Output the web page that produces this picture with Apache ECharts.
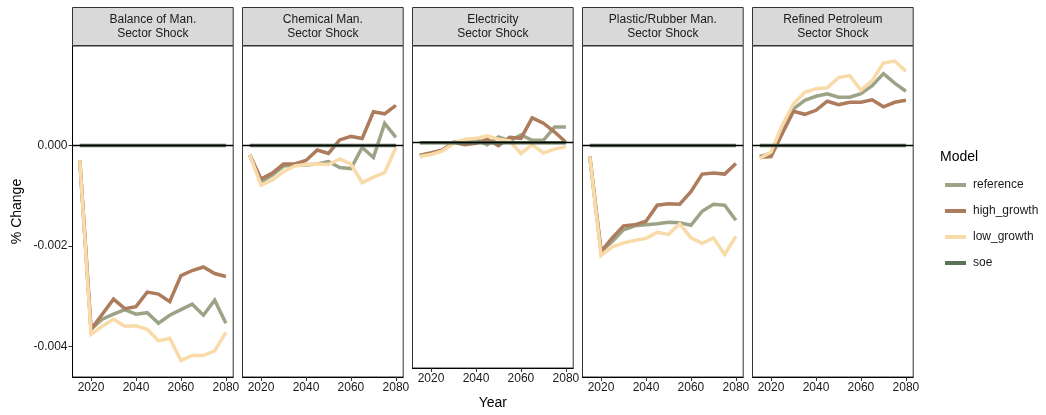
<!DOCTYPE html>
<html><head><meta charset="utf-8">
<script src="https://cdn.jsdelivr.net/npm/echarts@6/dist/echarts.min.js"></script>
<style>html,body{margin:0;padding:0;background:#fff}#c{width:1046px;height:415px}</style>
</head><body><div id="c"></div>
<script>
var years = [2015,2020,2025,2030,2035,2040,2045,2050,2055,2060,2065,2070,2075,2080];
var panels = ["Balance of Man.\nSector Shock","Chemical Man.\nSector Shock","Electricity\nSector Shock","Plastic/Rubber Man.\nSector Shock","Refined Petroleum\nSector Shock"];
var models = ["reference","high_growth","low_growth","soe"];
var colors = ["#9DA387","#AD7C5D","#F9DBA9","#5B7257"];
var xTicks = [2020,2040,2060,2080];
var yTicks = [-0.004,-0.002,0];

// Balance of Man.
var bal_reference = [-0.00030,-0.00366,-0.00346,-0.00336,-0.00327,-0.00336,-0.00333,-0.00354,-0.00338,-0.00327,-0.00316,-0.00338,-0.00308,-0.00354];
var bal_high      = [-0.00030,-0.00366,-0.00336,-0.00306,-0.00325,-0.00321,-0.00292,-0.00296,-0.00311,-0.00259,-0.00249,-0.00242,-0.00255,-0.00261];
var bal_low       = [-0.00030,-0.00376,-0.00360,-0.00346,-0.00360,-0.00359,-0.00366,-0.00389,-0.00384,-0.00428,-0.00418,-0.00418,-0.00409,-0.00372];
// Chemical Man.
var chem_reference = [-0.00019,-0.00072,-0.00059,-0.00041,-0.00039,-0.00039,-0.00037,-0.00032,-0.00044,-0.00046,-0.00004,-0.00024,0.00044,0.00016];
var chem_high      = [-0.00019,-0.00067,-0.00055,-0.00037,-0.00037,-0.00030,-0.00009,-0.00016,0.00011,0.00018,0.00014,0.00067,0.00063,0.00080];
var chem_low       = [-0.00019,-0.00079,-0.00069,-0.00052,-0.00041,-0.00038,-0.00037,-0.00038,-0.00027,-0.00037,-0.00074,-0.00063,-0.00054,-0.00004];
// Electricity
var elec_reference = [-0.00026,-0.00021,-0.00015,0.00001,0.00004,0.00007,-0.00004,0.00012,0.00004,0.00016,0.00005,0.00005,0.00032,0.00032];
var elec_high      = [-0.00026,-0.00021,-0.00015,0.00001,-0.00004,-0.00001,0.00007,-0.00006,0.00011,0.00009,0.00051,0.00040,0.00022,0.00001];
var elec_low       = [-0.00028,-0.00024,-0.00017,-0.00001,0.00007,0.00009,0.00014,0.00007,0.00004,-0.00022,-0.00004,-0.00021,-0.00013,-0.00008];
// Plastic/Rubber Man.
var plas_reference = [-0.00022,-0.00211,-0.00191,-0.00168,-0.00160,-0.00158,-0.00156,-0.00153,-0.00154,-0.00159,-0.00131,-0.00117,-0.00119,-0.00149];
var plas_high      = [-0.00022,-0.00211,-0.00184,-0.00160,-0.00158,-0.00151,-0.00119,-0.00116,-0.00117,-0.00092,-0.00057,-0.00055,-0.00057,-0.00036];
var plas_low       = [-0.00022,-0.00219,-0.00202,-0.00194,-0.00189,-0.00185,-0.00173,-0.00177,-0.00156,-0.00184,-0.00195,-0.00184,-0.00217,-0.00181];
// Refined Petroleum
var pet_reference = [-0.00022,-0.00016,0.00029,0.00073,0.00090,0.00098,0.00103,0.00096,0.00096,0.00103,0.00119,0.00143,0.00124,0.00108];
var pet_high      = [-0.00024,-0.00022,0.00024,0.00068,0.00062,0.00070,0.00088,0.00081,0.00086,0.00086,0.00091,0.00077,0.00086,0.00090];
var pet_low       = [-0.00026,-0.00013,0.00040,0.00083,0.00106,0.00113,0.00115,0.00135,0.00139,0.00110,0.00129,0.00164,0.00168,0.00148];
var soe = [0,0,0,0,0,0,0,0,0,0,0,0,0,0];

var panelData = [
  [bal_reference, bal_high, bal_low, soe],
  [chem_reference, chem_high, chem_low, soe],
  [elec_reference, elec_high, elec_low, soe],
  [plas_reference, plas_high, plas_low, soe],
  [pet_reference, pet_high, pet_low, soe]
];

var chart = echarts.init(document.getElementById('c'), null, {renderer:'canvas'});
var FONT = 'Liberation Sans, Arial, sans-serif';
var grids=[], xAxes=[], yAxes=[], series=[], graphics=[];
var L0 = 72.5, W = 160.7, STEP = 170, TOP = 46, H = 331;
for (var i=0;i<5;i++){
  var left = L0 + i*STEP;
  grids.push({left:left, top:TOP, width:W, height:H, show:true, borderColor:'#333', borderWidth:1, backgroundColor:'#fff'});
  xAxes.push({type:'value', gridIndex:i, min:2011.75, max:2083.25,
    splitLine:{show:false},
    axisLine:{show:true, onZero:false, lineStyle:{color:'#000', width:1}},
    axisTick:{show:true, length:4, lineStyle:{color:'#333'}, customValues:xTicks},
    axisLabel:{color:'#1a1a1a', fontSize:12, fontFamily:FONT, margin:5, customValues:xTicks, formatter:function(v){return String(v);}},
    name: i===2 ? 'Year' : '', nameLocation:'middle', nameGap:28,
    nameTextStyle:{color:'#000', fontSize:14, fontFamily:FONT}
  });
  yAxes.push({type:'value', gridIndex:i, min:-0.00461, max:0.00198,
    splitLine:{show:false},
    axisLine:{show:i===0, onZero:false, lineStyle:{color:'#000', width:1}},
    axisTick:{show:i===0, length:4, lineStyle:{color:'#333'}, customValues:yTicks},
    axisLabel:{show:i===0, color:'#1a1a1a', fontSize:12, fontFamily:FONT, margin:5, customValues:yTicks, formatter:function(v){return v.toFixed(3);}},
    name: i===0 ? '% Change' : '', nameLocation:'middle', nameGap:48, nameRotate:90,
    nameTextStyle:{color:'#000', fontSize:14, fontFamily:FONT}
  });
  for (var m=0;m<4;m++){
    var d = panelData[i][m].map(function(v,k){return [years[k], v];});
    var s = {name:models[m], type:'line', xAxisIndex:i, yAxisIndex:i, data:d,
      showSymbol:false, symbol:'none', silent:true, animation:false,
      lineStyle:{color:colors[m], width:3.5, cap:'butt', join:'miter'}, itemStyle:{color:colors[m]}, z:2+m};
    if (m===3){
      s.markLine = {silent:true, symbol:'none', label:{show:false}, animation:false,
        lineStyle:{color:'#000', width:1.4, type:'solid'}, data:[{yAxis:0}], z:10};
    }
    series.push(s);
  }
  graphics.push({type:'rect', shape:{x:left, y:7.5, width:W, height:38}, style:{fill:'#D9D9D9', stroke:'#333', lineWidth:1}, z:5});
  graphics.push({type:'text', x:left+W/2, y:26.5, style:{text:panels[i], fill:'#1a1a1a', font:'12px '+FONT, align:'center', verticalAlign:'middle', lineHeight:14}, z:6});
}
graphics.push({type:'text', x:940, y:157, style:{text:'Model', fill:'#000', font:'14px '+FONT, verticalAlign:'middle'}});

chart.setOption({
  animation:false,
  backgroundColor:'#fff',
  grid:grids, xAxis:xAxes, yAxis:yAxes, series:series,
  legend:{left:940, top:173, orient:'vertical', icon:'rect', itemWidth:21, itemHeight:4, itemGap:12,
    data:models, textStyle:{color:'#1a1a1a', fontSize:12, fontFamily:FONT, lineHeight:14, padding:[0,0,0,2]}, selectedMode:false},
  graphic:graphics
});
</script></body></html>
